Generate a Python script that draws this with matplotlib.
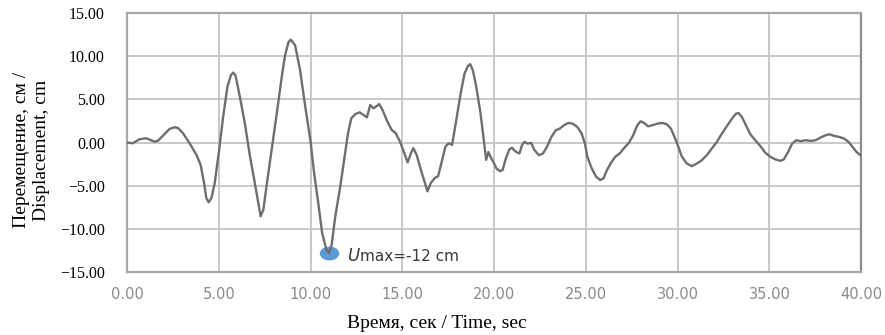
import matplotlib.pyplot as plt
import numpy as np
from matplotlib.path import Path
from matplotlib.transforms import Affine2D

# ----------------------------------
# 1. Displacement time history
# ----------------------------------
time_s = [
    0.00, 0.31, 0.68, 1.04, 1.28, 1.50, 1.68, 1.95, 2.32, 2.59, 2.77, 3.05,
    3.41, 3.78, 4.01, 4.20, 4.32, 4.45, 4.60, 4.78, 5.02, 5.24, 5.47, 5.66,
    5.78, 5.91, 6.15, 6.42, 6.70, 6.93, 7.15, 7.28, 7.43, 7.60, 7.88, 8.16,
    8.43, 8.61, 8.80, 8.92, 9.16, 9.43, 9.71, 10.00, 10.18, 10.42, 10.63,
    10.85, 11.00, 11.14, 11.35, 11.62, 11.86, 12.04, 12.22, 12.44, 12.67,
    12.89, 13.07, 13.25, 13.43, 13.61, 13.74, 13.92, 14.15, 14.42, 14.64,
    14.87, 15.11, 15.29, 15.47, 15.60, 15.78, 16.01, 16.23, 16.37, 16.55,
    16.77, 16.95, 17.13, 17.35, 17.53, 17.71, 17.94, 18.18, 18.39, 18.57,
    18.70, 18.84, 19.03, 19.26, 19.44, 19.57, 19.69, 19.84, 19.95, 20.13,
    20.31, 20.46, 20.64, 20.83, 20.97, 21.19, 21.38, 21.52, 21.65, 21.83,
    22.02, 22.20, 22.44, 22.66, 22.88, 23.12, 23.36, 23.58, 23.80, 24.04,
    24.28, 24.53, 24.77, 24.95, 25.08, 25.32, 25.56, 25.78, 25.96, 26.15,
    26.37, 26.60, 26.84, 27.06, 27.34, 27.58, 27.80, 27.98, 28.17, 28.39,
    28.62, 28.90, 29.17, 29.41, 29.63, 29.85, 30.04, 30.22, 30.49, 30.77,
    30.99, 31.28, 31.59, 31.86, 32.14, 32.41, 32.68, 32.96, 33.18, 33.32,
    33.50, 33.72, 33.96, 34.23, 34.51, 34.78, 35.05, 35.33, 35.60, 35.78,
    36.02, 36.24, 36.46, 36.70, 36.97, 37.24, 37.52, 37.79, 38.07, 38.28,
    38.52, 38.80, 39.07, 39.31, 39.53, 39.74, 39.95,
]
displacement_cm = [
    0.00, -0.08, 0.38, 0.50, 0.30, 0.10, 0.20, 0.77, 1.58, 1.77, 1.70, 1.08,
    -0.08, -1.42, -2.58, -4.70, -6.42, -6.92, -6.42, -4.70, -0.85, 3.00,
    6.46, 7.80, 8.10, 7.80, 5.30, 2.23, -1.60, -4.30, -7.00, -8.54, -7.77,
    -5.08, -0.85, 3.38, 7.60, 10.10, 11.65, 11.92, 11.27, 8.38, 4.20, 0.15,
    -3.30, -7.00, -10.46, -12.30, -12.80, -12.00, -8.54, -5.08, -1.60, 1.08,
    2.80, 3.30, 3.50, 3.19, 2.92, 4.35, 3.96, 4.23, 4.46, 3.77, 2.60, 1.46,
    1.08, 0.12, -1.23, -2.30, -1.23, -0.65, -1.42, -3.15, -4.70, -5.65,
    -4.70, -4.10, -3.90, -2.38, -0.46, -0.08, -0.27, 2.60, 5.70, 8.00, 8.85,
    9.08, 8.38, 6.46, 3.38, 0.30, -2.00, -1.10, -1.80, -2.20, -3.00, -3.30,
    -3.20, -1.85, -0.80, -0.60, -1.08, -1.27, -0.30, 0.08, -0.12, -0.04,
    -0.88, -1.46, -1.27, -0.50, 0.65, 1.42, 1.62, 2.00, 2.27, 2.19, 1.81,
    1.04, -0.12, -1.65, -3.00, -3.96, -4.35, -4.15, -3.19, -2.35, -1.65,
    -1.27, -0.69, -0.04, 0.85, 2.00, 2.46, 2.27, 1.88, 2.00, 2.19, 2.27,
    2.12, 1.62, 0.55, -0.50, -1.58, -2.42, -2.73, -2.50, -2.12, -1.46,
    -0.69, 0.08, 1.04, 1.88, 2.77, 3.35, 3.42, 2.96, 2.00, 0.96, 0.27,
    -0.42, -1.19, -1.65, -1.96, -2.12, -1.96, -1.08, -0.12, 0.27, 0.15,
    0.27, 0.19, 0.27, 0.58, 0.85, 0.96, 0.77, 0.65, 0.46, 0.08, -0.50,
    -1.08, -1.46,
]

x_ticks = [0, 5, 10, 15, 20, 25, 30, 35, 40]
y_ticks = [-15, -10, -5, 0, 5, 10, 15]

umax_time = 11.0
umax_value = -12.8

# ----------------------------------
# 2. Figure and axes
# ----------------------------------
fig = plt.figure(figsize=(8.85, 3.35), dpi=100)
ax = fig.add_axes([0.1435, 0.188, 0.8296, 0.773])

ax.plot(time_s, displacement_cm, color='#6e6e6e', lw=1.7, zorder=5,
        solid_joinstyle='round')

# flattened dot for the peak value
circle = Path.unit_circle()
ellipse = circle.transformed(Affine2D().scale(1.45, 1.0))
ax.plot([umax_time], [umax_value], marker=ellipse, ms=13,
        color='#5b9bd5', mec='#5b9bd5', ls='none', zorder=4)

ax.text(11.99, -13.67, 'U', fontsize=12, style='italic',
        family='DejaVu Sans', color='#383838', va='baseline', ha='left')
ax.text(12.68, -13.67, 'max=-12 cm', fontsize=11,
        family='DejaVu Sans', color='#383838', va='baseline', ha='left')

# ----------------------------------
# 3. Axis styling
# ----------------------------------
ax.set_xlim(0, 40)
ax.set_ylim(-15, 15)
ax.set_xticks(x_ticks)
ax.set_yticks(y_ticks)
ax.set_xticklabels([f'{v:.2f}' for v in x_ticks], family='DejaVu Sans',
                   fontsize=10.5, color='#8a8a8a')
ax.set_yticklabels([f'{v:.2f}'.replace('-', '\u2212') for v in y_ticks],
                   family='Liberation Serif', fontsize=11.5, color='black')
ax.tick_params(axis='both', length=0)
ax.tick_params(axis='y', pad=16)
ax.tick_params(axis='x', pad=11)

ax.grid(True, color='#c4c4c4', lw=1.3, zorder=0)
ax.set_axisbelow(True)
for name, spine in ax.spines.items():
    spine.set_color('#a8a8a8')
    spine.set_linewidth(1.6)
ax.spines['right'].set_color('#8c8c8c')

# ----------------------------------
# 4. Axis titles
# ----------------------------------
fig.text(31.5 / 885, 1 - 150 / 335, 'Перемещение, см /\nDisplacement, cm',
         rotation=90, ha='center', va='center', family='Liberation Serif',
         fontsize=14, linespacing=1.2)
fig.text(437 / 885, 1 - 323 / 335, 'Время, сек / Time, sec',
         ha='center', va='center', family='Liberation Serif', fontsize=14)

fig.savefig('out.png', dpi=100)
